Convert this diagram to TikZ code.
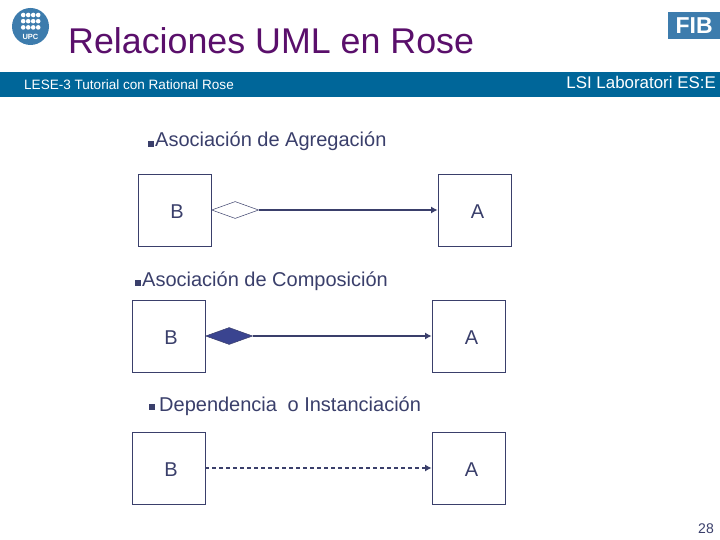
\documentclass[tikz,border=0pt]{standalone}
\usepackage{fontspec}
\setmainfont{Liberation Sans}
\usetikzlibrary{shapes.geometric,arrows.meta}
\definecolor{navy}{HTML}{3A3F6B}
\definecolor{bandblue}{HTML}{006699}
\definecolor{logoblue}{HTML}{3D7CAD}
\definecolor{titlec}{HTML}{5A0F6B}
\definecolor{diam}{HTML}{3A4490}
\tikzset{
  x=1pt,y=-1pt,
  box/.style={draw=navy,line width=0.8pt,fill=white,minimum width=73pt,minimum height=72pt,inner sep=0pt},
  boxt/.style={inner sep=0pt,text=navy,font=\fontsize{20}{20}\selectfont},
  lbl/.style={anchor=base west,inner sep=0pt,text=navy,font=\fontsize{20}{20}\selectfont},
  bul/.style={fill=navy,minimum size=6pt,inner sep=0pt},
  dia/.style={diamond,aspect=3,inner sep=0pt,minimum width=47pt,minimum height=17pt,draw=navy,line width=0.5pt},
  con/.style={draw=navy,line width=1.3pt,-{Latex[length=6.5pt,width=7pt]}},
  dot/.style={circle,fill=white,minimum size=4.6pt,inner sep=0pt}
}
\begin{document}
\begin{tikzpicture}
\useasboundingbox (0,0) rectangle (720,540);
\fill[white] (0,0) rectangle (720,540);
\node[fill=bandblue,minimum width=720pt,minimum height=24.5pt,inner sep=0pt,anchor=north west] (band) at (0,72) {};
\node[anchor=base west,inner sep=0pt,text=titlec,font=\fontsize{35.8}{35.8}\selectfont] (title) at (68,54) {Relaciones UML en Rose};
\node[anchor=base west,inner sep=0pt,text=white,font=\fontsize{13.55}{13.55}\selectfont] (sub) at (24,90) {LESE-3 Tutorial con Rational Rose};
\node[anchor=base east,inner sep=0pt,text=white,font=\fontsize{16.9}{16.9}\selectfont] (lsi) at (716,89) {LSI Laboratori ES:E};
% UPC logo
\node[circle,fill=logoblue,minimum size=37pt,inner sep=0pt] (upc) at (30.5,26.5) {};
\foreach \i in {0,1,2,3}{\foreach \j in {0,1,2}{
  \node[dot] (d\i\j) at (23.2+\i*5,15+\j*6.2) {};}}
\node[inner sep=0pt,text=white,font=\fontsize{7.5}{7.5}\bfseries\selectfont] (upct) at (30.5,37) {UPC};
% FIB logo
\node[fill=logoblue,minimum width=52pt,minimum height=27pt,inner sep=0pt,anchor=north west,text=white,font=\fontsize{23}{23}\bfseries\selectfont] (fib) at (668,12) {FIB};
% Section 1
\node[bul] (b1) at (151,144) {};
\node[lbl] (t1) at (155,147) {Asociación de Agregación};
\node[box] (B1) at (174.5,210) {};
\node[boxt] (B1t) at (177,212) {B};
\node[box] (A1) at (474.5,210) {};
\node[boxt] (A1t) at (477.5,212) {A};
\node[dia,fill=white,anchor=west] (D1) at (B1.east) {};
\draw[con] (D1.east) -- (A1.west);
% Section 2
\node[bul] (b2) at (138,283) {};
\node[lbl] (t2) at (142,286) {Asociación de Composición};
\node[box] (B2) at (168.5,336) {};
\node[boxt] (B2t) at (171,338) {B};
\node[box] (A2) at (468.5,336) {};
\node[boxt] (A2t) at (471.5,338) {A};
\node[dia,fill=diam,anchor=west] (D2) at (B2.east) {};
\draw[con] (D2.east) -- (A2.west);
% Section 3
\node[bul] (b3) at (152,407) {};
\node[lbl] (t3) at (159,411) {Dependencia\hspace{5pt} o Instanciación};
\node[box] (B3) at (168.5,468) {};
\node[boxt] (B3t) at (171,470) {B};
\node[box] (A3) at (468.5,468) {};
\node[boxt] (A3t) at (471.5,470) {A};
\draw[con,dash pattern=on 4pt off 3pt] (B3.east) -- (A3.west);
\node[anchor=base east,inner sep=0pt,text=navy,font=\fontsize{14}{14}\selectfont] (pg) at (714,533) {28};
\end{tikzpicture}
\end{document}
